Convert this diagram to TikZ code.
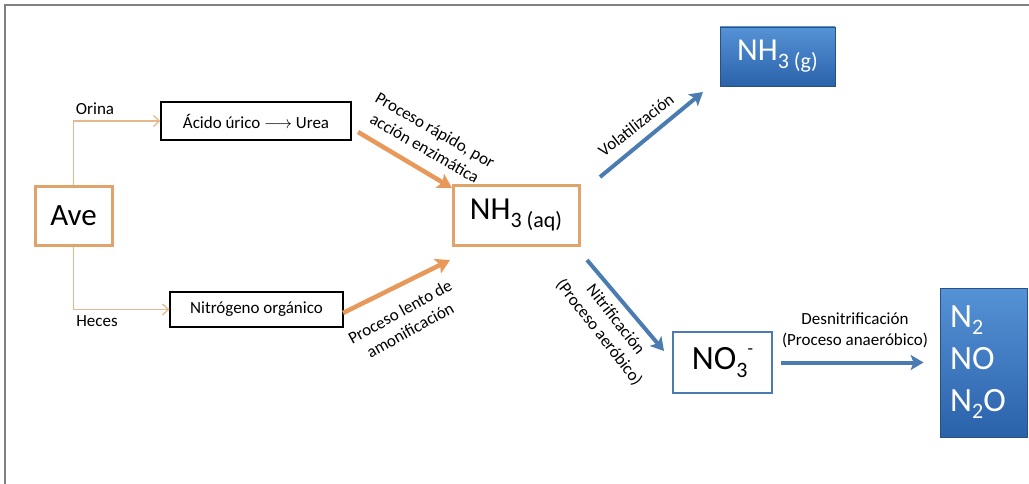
\documentclass[tikz,border=0pt]{standalone}
\usepackage{fontspec}
\setmainfont{Carlito}
\usetikzlibrary{arrows.meta}
\definecolor{orbox}{RGB}{224,163,105}
\definecolor{orline}{RGB}{230,185,140}
\definecolor{orarrow}{RGB}{232,152,88}
\definecolor{bluearrow}{RGB}{74,124,178}
\definecolor{bluetop}{RGB}{86,146,214}
\definecolor{bluebot}{RGB}{42,98,170}
\definecolor{bluedark}{RGB}{40,80,130}
\definecolor{framegray}{RGB}{128,128,128}
\newcommand\chemsub[1]{\raisebox{-8pt}{\fontsize{22}{22}\selectfont #1}}
\newcommand\chemsubb[1]{\raisebox{-7pt}{\fontsize{22}{22}\selectfont #1}}
\begin{document}
\begin{tikzpicture}[x=1pt,y=-1pt,
  orbx/.style={draw=orbox, line width=3pt, fill=white, inner sep=0pt},
  blkbx/.style={draw=black, line width=1.2pt, fill=white, inner sep=0pt, font=\fontsize{17}{20}\selectfont},
  bluebx/.style={draw=bluedark, line width=0.8pt, top color=bluetop, bottom color=bluebot, text=white, inner sep=0pt},
  thinor/.style={draw=orline, line width=1.3pt, -{Straight Barb[length=6pt,width=11pt]}},
  thickor/.style={draw=orarrow, line width=4.5pt, -{Stealth[length=14pt,width=16pt,inset=3pt]}},
  thickbl/.style={draw=bluearrow, line width=4pt, -{Stealth[length=13pt,width=15pt,inset=3pt]}},
  lbl/.style={font=\fontsize{17}{21}\selectfont, inner sep=0pt, align=center}]
\useasboundingbox (0,0) rectangle (1029,484);
\draw[framegray, line width=1.6pt] (5,484) -- (5,5) -- (1029,5);

% nodes
\node[orbx, minimum width=77pt, minimum height=58pt, font=\fontsize{31}{31}\selectfont] (ave) at (73.5,216) {Ave};
\node[blkbx, minimum width=190pt, minimum height=38pt] (acido) at (256,121) {Ácido úrico $\longrightarrow$ Urea};
\node[blkbx, minimum width=173pt, minimum height=35pt] (nitro) at (256.5,309.5) {Nitrógeno orgánico};
\node[orbx, minimum width=126pt, minimum height=59pt, font=\fontsize{32}{32}\selectfont] (nhaq) at (516,215.5) {NH\chemsub{3 (aq)}};
\node[bluebx, minimum width=115pt, minimum height=59pt, font=\fontsize{32}{32}\selectfont] (nhg) at (777.5,56.5) {NH\chemsub{3 (g)}};
\node[draw=bluearrow, line width=2.5pt, fill=white, inner sep=0pt, minimum width=99pt, minimum height=61pt, font=\fontsize{34}{34}\selectfont] (no3) at (722.5,362.5) {NO\chemsub{3}\raisebox{15pt}{\fontsize{18}{18}\selectfont -}};
\node[bluebx, minimum width=87pt, minimum height=149pt] (n2) at (983.5,362.5) {};
\node[anchor=west, align=left, text=white, inner sep=0pt, font=\fontsize{34}{42}\selectfont] (n2txt) at (950,362) {N\chemsubb{2}\\NO\\N\chemsubb{2}O};

% thin connectors
\draw[thinor] (ave.north) |- (acido.west);
\draw[thinor] (ave.south) |- (nitro.west);
\node[lbl] (orina) at (95,109) {Orina};
\node[lbl] (heces) at (97,321) {Heces};

% orange arrows
\coordinate (o1s) at (358,132);
\coordinate (o1e) at (452,188);
\coordinate (o2s) at (343,313);
\coordinate (o2e) at (450,260);
\draw[thickor] (o1s) -- (o1e);
\draw[thickor] (o2s) -- (o2e);
\node[lbl, rotate=-30] (lrap) at (430,139) {Proceso rápido, por\\acción enzimática};
\node[lbl, rotate=29] (llen) at (405,321) {Proceso lento de\\amonificación};

% blue arrows
\coordinate (b1s) at (600,177);
\coordinate (b1e) at (703,92);
\coordinate (b2s) at (587,260);
\coordinate (b2e) at (664,351);
\draw[thickbl] (b1s) -- (b1e);
\draw[thickbl] (b2s) -- (b2e);
\draw[thickbl, shorten <=8pt, shorten >=16pt] (no3.east) -- (n2.west);
\node[lbl, rotate=38] (lvol) at (636,125) {Volatilización};
\node[lbl, rotate=-52] (lnit) at (607,326) {Nitrificación\\(Proceso aeróbico)};
\node[lbl, align=center] (lden) at (855,330) {Desnitrificación\\(Proceso anaeróbico)};
\end{tikzpicture}
\end{document}
